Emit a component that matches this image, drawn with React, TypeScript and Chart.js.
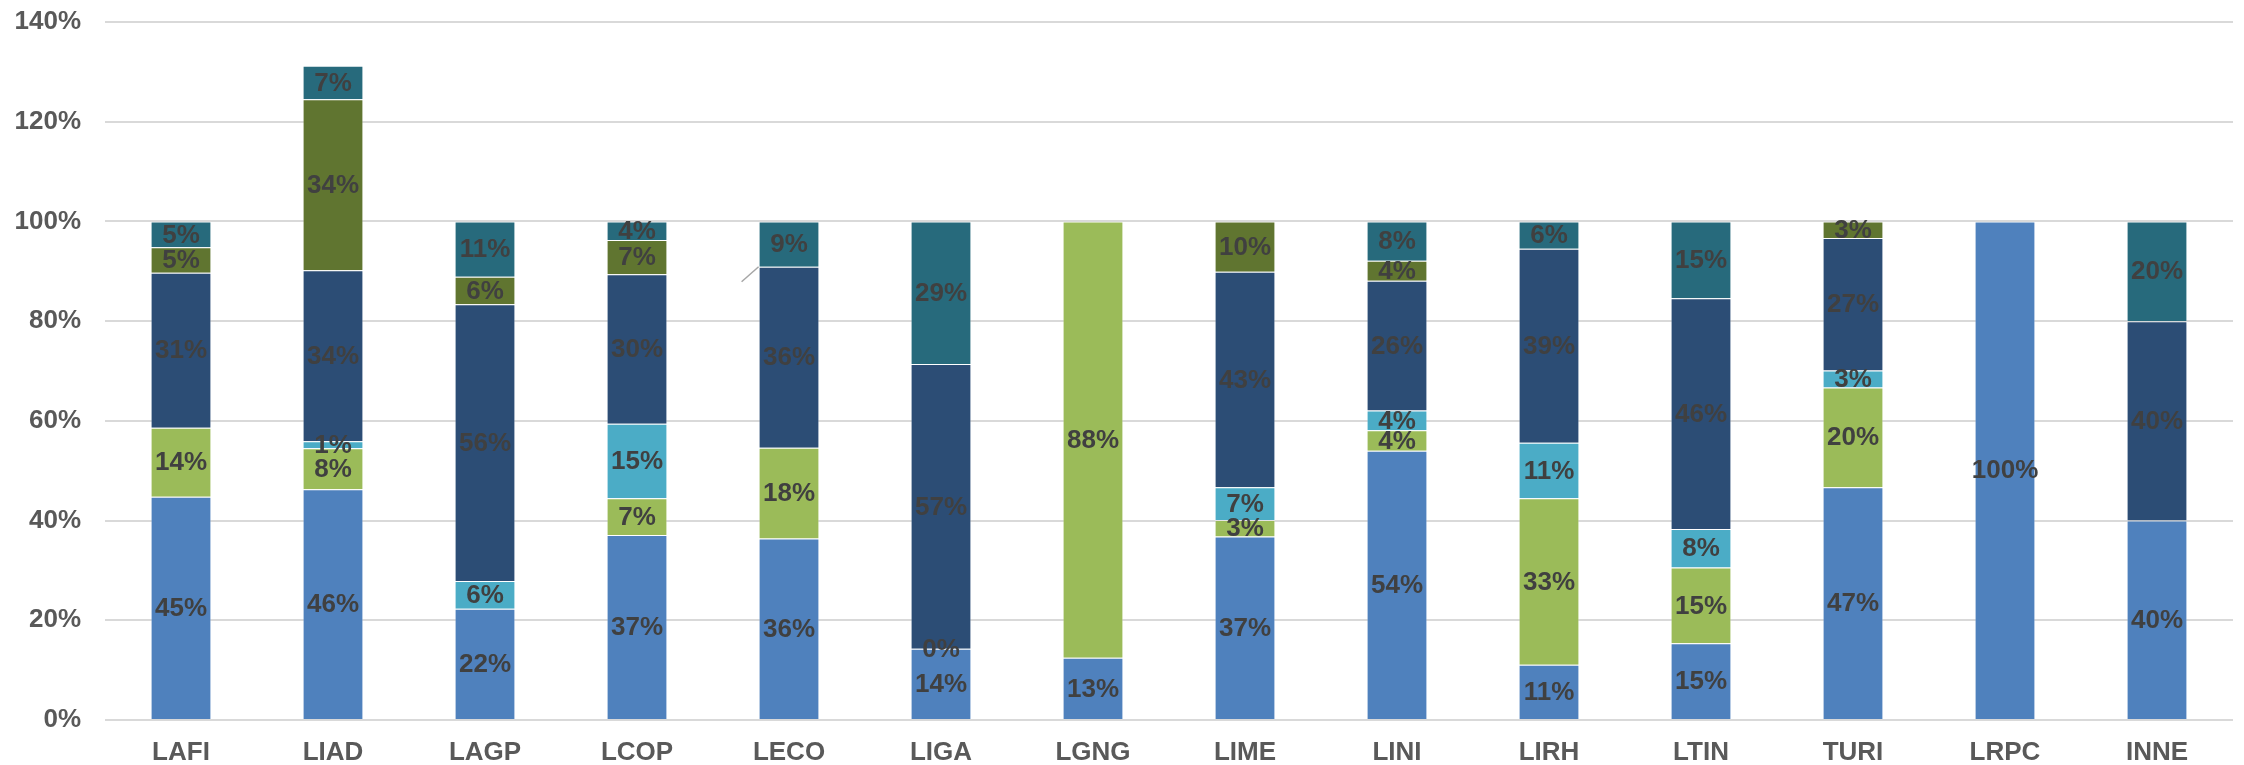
import React, { useEffect, useRef } from "react";
import { Chart, registerables } from "chart.js";

Chart.register(...registerables);

const categories = ["LAFI", "LIAD", "LAGP", "LCOP", "LECO", "LIGA", "LGNG", "LIME", "LINI", "LIRH", "LTIN", "TURI", "LRPC", "INNE"];

const seriesBlue = [44.8, 46.3, 22.3, 37.1, 36.4, 14.3, 12.5, 36.8, 54.0, 11.1, 15.4, 46.7, 100, 40];
const seriesGreen = [13.8, 8.2, null, 7.4, 18.2, 0, 87.5, 3.3, 4.1, 33.4, 15.2, 20.0, null, null];
const seriesCyan = [null, 1.4, 5.6, 14.9, null, null, null, 6.6, 4.0, 11.1, 7.7, 3.4, null, null];
const seriesNavy = [31.1, 34.3, 55.5, 30.0, 36.3, 57.1, null, 43.2, 26.0, 38.9, 46.3, 26.6, null, 40];
const seriesOlive = [5.1, 34.3, 5.5, 6.9, null, null, null, 10.1, 4.0, null, null, 3.3, null, null];
const seriesTeal = [5.2, 6.7, 11.1, 3.7, 9.1, 28.6, null, null, 7.9, 5.5, 15.4, null, null, 20];

const yTicks = [0, 20, 40, 60, 80, 100, 120, 140];

const seriesList = [
  { name: "S1", data: seriesBlue, color: "#4F81BD" },
  { name: "S2", data: seriesGreen, color: "#9BBB59" },
  { name: "S3", data: seriesCyan, color: "#4BACC6" },
  { name: "S4", data: seriesNavy, color: "#2C4D75" },
  { name: "S5", data: seriesOlive, color: "#607530" },
  { name: "S6", data: seriesTeal, color: "#276A7C" },
];

const FONT = "'Liberation Sans', Arial, sans-serif";

const labelPlugin = {
  id: "segLabels",
  afterDatasetsDraw(chart: any) {
    const ctx = chart.ctx;
    ctx.save();
    ctx.font = `bold 26px ${FONT}`;
    ctx.fillStyle = "#404040";
    ctx.textAlign = "center";
    ctx.textBaseline = "middle";
    chart.data.datasets.forEach((ds: any, di: number) => {
      const meta = chart.getDatasetMeta(di);
      meta.data.forEach((el: any, i: number) => {
        const v = ds.data[i];
        if (v === null || v === undefined) return;
        const p = el.getProps(["x", "y", "base"], true);
        ctx.fillText(Math.round(v) + "%", p.x, (p.y + p.base) / 2 + 1);
      });
    });
    // small leader line at LECO (label moved off the bar)
    const navyMeta = chart.getDatasetMeta(3);
    const el = navyMeta.data[4];
    if (el) {
      const p = el.getProps(["x", "y", "width"], true);
      ctx.strokeStyle = "#a6a6a6";
      ctx.lineWidth = 1.5;
      ctx.beginPath();
      ctx.moveTo(p.x - p.width / 2, p.y);
      ctx.lineTo(p.x - p.width / 2 - 17, p.y + 15);
      ctx.stroke();
    }
    ctx.restore();
  },
};

export default function App() {
  const ref = useRef<HTMLCanvasElement>(null);
  useEffect(() => {
    document.body.style.margin = "0";
    const chart = new Chart(ref.current!, {
      type: "bar",
      data: {
        labels: categories,
        datasets: seriesList.map((s) => ({
          label: s.name,
          data: s.data as any,
          backgroundColor: s.color,
          borderColor: "rgba(255,255,255,0.3)",
          borderWidth: 1,
          categoryPercentage: 1,
          barPercentage: 0.4,
        })),
      },
      options: {
        animation: false,
        responsive: false,
        devicePixelRatio: 1,
        layout: { padding: { top: 22, right: 11, left: 0, bottom: 0 } },
        plugins: { legend: { display: false }, tooltip: { enabled: false } },
        scales: {
          x: {
            stacked: true,
            grid: { display: false, drawTicks: false },
            border: { display: false },
            ticks: {
              padding: 17,
              color: "#595959",
              font: { family: FONT, size: 26, weight: "bold" },
            },
            afterFit: (s: any) => {
              s.height = 45;
              s.paddingLeft = 0;
              s.paddingRight = 0;
            },
          },
          y: {
            stacked: true,
            min: 0,
            max: 140,
            afterBuildTicks: (s: any) => {
              s.ticks = yTicks.map((v) => ({ value: v }));
            },
            grid: { color: "#d9d9d9", lineWidth: 2, drawTicks: false },
            border: { display: false },
            ticks: {
              padding: 24,
              color: "#595959",
              font: { family: FONT, size: 26, weight: "bold" },
              callback: (v: any) => v + "%",
            },
            afterFit: (s: any) => {
              s.width = 105;
              s.paddingTop = 0;
              s.paddingBottom = 0;
            },
          },
        },
      },
      plugins: [labelPlugin],
    });
    return () => chart.destroy();
  }, []);
  return (
    <div style={{ width: 2244, height: 765, background: "#fff" }}>
      <canvas ref={ref} width={2244} height={765} />
    </div>
  );
}
